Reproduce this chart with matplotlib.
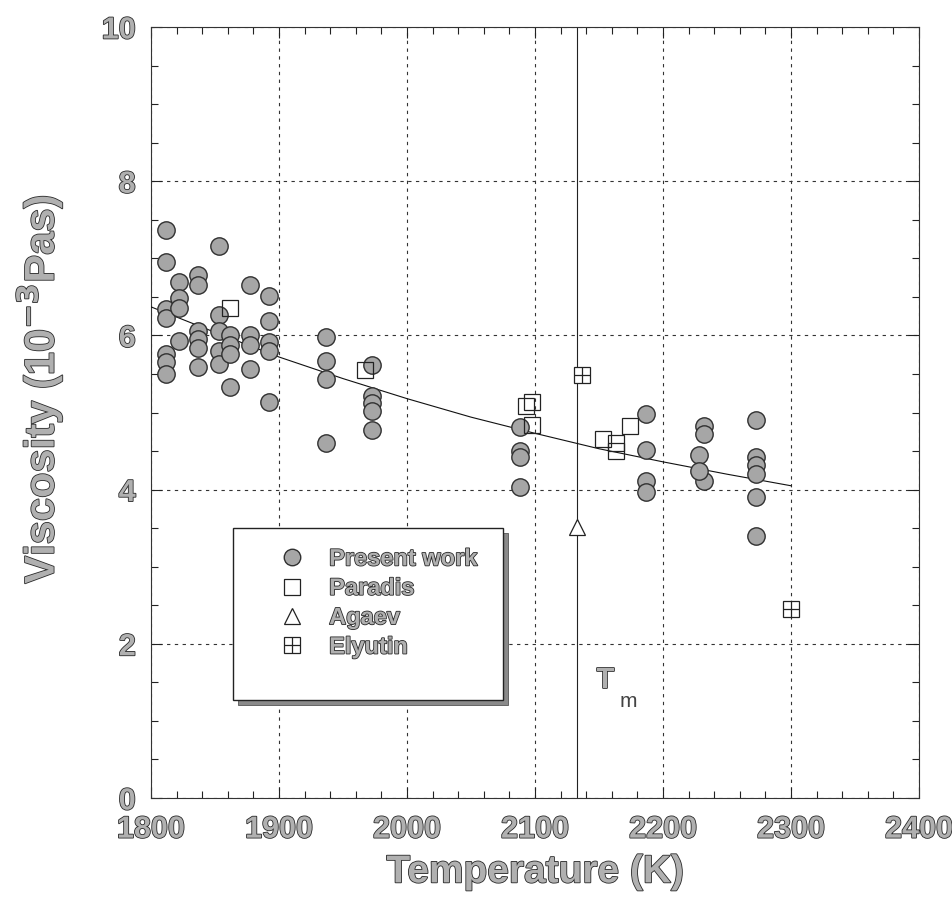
"""Viscosity vs temperature: present work against literature values."""
import matplotlib
matplotlib.use("Agg")
import matplotlib.pyplot as plt
import matplotlib.patheffects as pe
from matplotlib.patches import Rectangle
from matplotlib.ticker import MultipleLocator

# present work (K, 10^-3 Pa s)
present_T = [1812, 1812, 1812, 1812, 1812, 1812, 1812,
             1822, 1822, 1822, 1822,
             1837, 1837, 1837, 1837, 1837, 1837,
             1853, 1853, 1853, 1853, 1853,
             1862, 1862, 1862, 1862,
             1877, 1877, 1877, 1877,
             1892, 1892, 1892, 1892, 1892,
             1937, 1937, 1937, 1937,
             1973, 1973, 1973, 1973, 1973,
             2088, 2088, 2088, 2088,
             2187, 2187, 2187, 2187,
             2232, 2232, 2232, 2228, 2228,
             2273, 2273, 2273, 2273, 2273, 2273]
present_v = [7.37, 6.95, 6.34, 6.23, 5.76, 5.65, 5.50,
             6.69, 6.49, 6.36, 5.93,
             6.78, 6.65, 6.06, 5.95, 5.84, 5.59,
             7.16, 6.27, 6.06, 5.80, 5.63,
             6.01, 5.88, 5.76, 5.33,
             6.65, 6.01, 5.88, 5.56,
             6.51, 6.19, 5.91, 5.80, 5.14,
             5.98, 5.67, 5.43, 4.60,
             5.62, 5.22, 5.12, 5.02, 4.77,
             4.81, 4.50, 4.42, 4.03,
             4.98, 4.51, 4.11, 3.97,
             4.83, 4.72, 4.11, 4.45, 4.24,
             4.90, 4.42, 4.32, 4.20, 3.90, 3.40]

paradis_T = [1862, 1967, 2093, 2098, 2098, 2153, 2163, 2163, 2174]
paradis_v = [6.35, 5.55, 5.08, 5.14, 4.84, 4.65, 4.61, 4.50, 4.83]

agaev_T = [2133]
agaev_v = [3.51]

elyutin_T = [2137, 2300]
elyutin_v = [5.48, 2.45]

# fitted curve
fit_T = [1800, 1850, 1900, 1950, 2000, 2050, 2100, 2150, 2200, 2250, 2300]
fit_v = [6.37, 6.04, 5.72, 5.44, 5.18, 4.94, 4.73, 4.53, 4.36, 4.20, 4.05]

T_MELT = 2133

FONT = "Liberation Sans"
outline = [pe.withStroke(linewidth=1.2, foreground="#2a2a2a")]
txt = dict(family=FONT, weight="bold", color="#b0b0b0", path_effects=outline)

fig = plt.figure(figsize=(9.52, 9.06), dpi=100)
ax = fig.add_axes([0.1586, 0.1192, 0.8067, 0.851])

ax.set_xlim(1800, 2400)
ax.set_ylim(0, 10)
ax.xaxis.set_major_locator(MultipleLocator(100))
ax.xaxis.set_minor_locator(MultipleLocator(20))
ax.yaxis.set_major_locator(MultipleLocator(2))
ax.yaxis.set_minor_locator(MultipleLocator(0.5))
ax.tick_params(which="both", direction="in", top=True, right=True,
               color="#222", width=0.8)
ax.tick_params(which="major", length=8)
ax.tick_params(which="minor", length=5)
ax.tick_params(axis="x", which="major", pad=12)
ax.tick_params(axis="y", which="major", pad=11)
for lab in ax.get_xticklabels() + ax.get_yticklabels():
    lab.set(fontsize=22, **txt)
for s in ax.spines.values():
    s.set_linewidth(0.8)
    s.set_color("#333")
ax.grid(True, which="major", color="#333", ls=(0, (3, 4)), lw=0.8)
ax.set_axisbelow(True)

ax.plot(fit_T, fit_v, "-", color="#111", lw=0.8, zorder=3)
ax.axvline(T_MELT, color="#222", lw=0.8, zorder=2)

h_pw, = ax.plot(present_T, present_v, "o", ls="none", ms=12.5, mfc="#a6a6a6",
                mec="#303030", mew=1.0, zorder=4, label="Present work")
h_pa, = ax.plot(paradis_T, paradis_v, "s", ls="none", ms=12, mfc="none",
                mec="#222", mew=0.9, zorder=5, label="Paradis")
h_ag, = ax.plot(agaev_T, agaev_v, "^", ls="none", ms=12, mfc="white",
                mec="#222", mew=0.9, zorder=5, label="Agaev")
h_el1, = ax.plot(elyutin_T, elyutin_v, "s", ls="none", ms=12, mfc="white",
                 mec="#222", mew=0.9, zorder=5)
h_el2, = ax.plot(elyutin_T, elyutin_v, "+", ls="none", ms=12,
                 mec="#222", mew=0.9, zorder=6)

ax.text(2155, 1.53, "T", fontsize=21, ha="center", va="center", **txt)
ax.text(2173, 1.25, "m", fontsize=15, ha="center", va="center",
        family=FONT, color="#444")

ax.set_xlabel("Temperature (K)", fontsize=28, labelpad=7, **txt)
ax.set_ylabel("Viscosity (10$^{\\mathbf{-3}}$Pas)", fontsize=30, **txt)
ax.yaxis.set_label_coords(-0.112, 0.53)

# legend box with drop shadow
bx, by, bw, bh = 0.107, 0.127, 0.351, 0.223
ax.add_patch(Rectangle((bx + 0.0065, by - 0.0065), bw, bh, transform=ax.transAxes,
                       fc="#8a8a8a", ec="#555", lw=0.6, zorder=7))
ax.add_patch(Rectangle((bx, by), bw, bh, transform=ax.transAxes,
                       fc="white", ec="#222", lw=1.0, zorder=8))
leg = ax.legend([h_pw, h_pa, h_ag, (h_el1, h_el2)],
                ["Present work", "Paradis", "Agaev", "Elyutin"],
                loc="upper left", bbox_to_anchor=(0.168, 0.325),
                frameon=False, prop=dict(family=FONT, weight="bold", size=17),
                borderpad=0, borderaxespad=0,
                labelspacing=0.27, handletextpad=1.08, handlelength=1.0,
                markerscale=0.95)
leg.set_zorder(9)
for t in leg.get_texts():
    t.set_color("#b0b0b0")
    t.set_path_effects(outline)

fig.savefig("out.png", dpi=100)
